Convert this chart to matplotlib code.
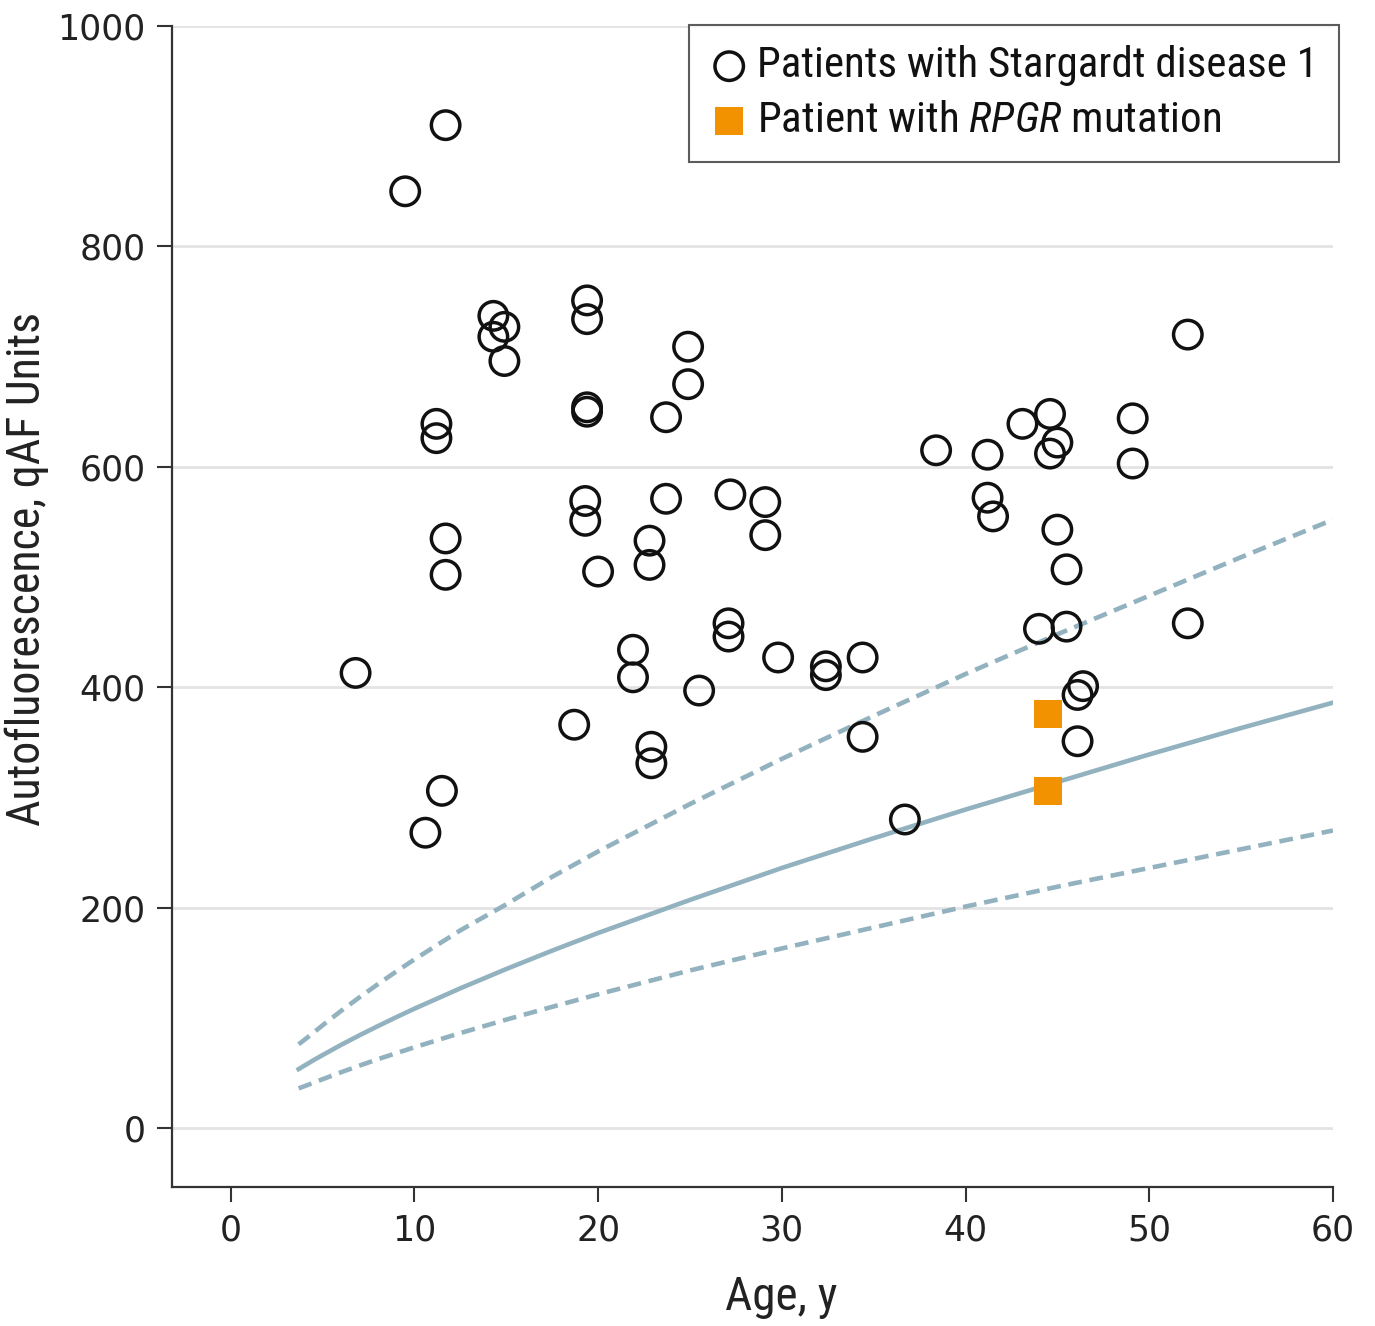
import matplotlib
matplotlib.use("Agg")
import matplotlib.pyplot as plt
from matplotlib import font_manager

# ---- data ----
stgd_age = [9.5, 11.7, 6.8, 11.2, 11.2, 11.7, 11.7, 11.5, 10.6, 14.3, 14.9, 14.3, 14.9,
            19.4, 19.4, 19.4, 19.4, 24.9, 24.9, 23.7, 19.3, 19.3, 23.7, 27.2, 29.1, 29.1,
            22.8, 22.8, 20.0, 27.1, 27.1, 21.9, 21.9, 25.5, 18.7, 22.9, 22.9, 29.8, 32.4,
            32.4, 34.4, 34.4, 36.7, 38.4, 41.2, 41.2, 41.5, 43.1, 44.6, 45.0, 44.6, 45.0,
            45.5, 44.0, 45.5, 46.4, 46.1, 46.1, 49.1, 49.1, 52.1, 52.1]
stgd_qaf = [850, 910, 413, 639, 626, 535, 502, 306, 268, 737, 727, 718, 696,
            751, 734, 654, 650, 709, 675, 645, 569, 551, 571, 575, 568, 538,
            533, 511, 505, 458, 446, 434, 409, 397, 366, 346, 331, 427, 419,
            411, 427, 355, 280, 615, 611, 572, 555, 639, 648, 622, 612, 543,
            507, 453, 455, 401, 393, 351, 644, 603, 720, 458]
rpgr_age = [44.5, 44.5]
rpgr_qaf = [376, 306]

curve_age = [3.7, 4.5, 5, 6, 7, 8, 9, 10, 12.5, 15, 17.5, 20, 25, 30, 35, 40, 45, 50, 55, 60]
curve_mean = [53.5, 61.5, 66.2, 75.4, 84.1, 92.4, 100.5, 108.3, 126.8, 144.3, 161, 177,
              207, 236, 263, 289, 314, 339, 363, 386]
curve_upper = [76, 86.4, 93.2, 106.2, 118.5, 130.4, 141.9, 153, 179.4, 203, 228, 251,
               294, 335, 374, 412, 448, 483, 518, 552]
curve_lower = [36, 41, 44.3, 50.6, 56.6, 62.4, 67.9, 73.3, 86.2, 98.4, 110, 121.4,
               143, 163, 182, 201, 219, 236, 253, 270]

xticks = [0, 10, 20, 30, 40, 50, 60]
yticks = [0, 200, 400, 600, 800, 1000]

# ---- fonts ----
avail = sorted({f.name for f in font_manager.fontManager.ttflist})
narrow = None
for cand in ['Liberation Sans Narrow', 'Roboto Condensed', 'Open Sans Condensed',
             'Noto Sans Condensed', 'DejaVu Sans Condensed']:
    if cand in avail:
        narrow = cand
        break
if narrow is None:
    for n in avail:
        if 'Condensed' in n or 'Narrow' in n:
            narrow = n
            break
if narrow is None:
    narrow = 'Liberation Sans' if 'Liberation Sans' in avail else 'DejaVu Sans'

plt.rcParams['mathtext.fontset'] = 'custom'
plt.rcParams['mathtext.it'] = narrow + ':italic'
plt.rcParams['mathtext.rm'] = narrow

fig = plt.figure(figsize=(13.75, 13.26), dpi=100)
ax = fig.add_axes([0.125, 0.1048, 0.8444, 0.8756])

curve_col = '#93b2bf'
ax.plot(curve_age, curve_upper, color=curve_col, lw=3.3, ls=(0, (3, 1.7)), zorder=2)
ax.plot(curve_age, curve_mean, color=curve_col, lw=3.3, zorder=2)
ax.plot(curve_age, curve_lower, color=curve_col, lw=3.3, ls=(0, (3, 1.7)), zorder=2)

ax.scatter(stgd_age, stgd_qaf, s=420, facecolors='none', edgecolors='#111111',
           linewidths=2.5, zorder=4, label='Patients with Stargardt disease 1')
ax.scatter(rpgr_age, rpgr_qaf, s=400, marker='s', color='#F39200', linewidths=0,
           zorder=3, label='Patient with $\\it{RPGR}$ mutation')

ax.set_xlim(-3.2, 60)
ax.set_ylim(-53.5, 1000)
ax.set_xticks(xticks)
ax.set_yticks(yticks)
ax.tick_params(axis='both', labelsize=25, length=11, width=1.5, color='#333333',
               labelcolor='#222222', pad=8)
ax.yaxis.grid(True, color='#e3e3e3', lw=2)
ax.set_axisbelow(True)
for s in ['top', 'right']:
    ax.spines[s].set_visible(False)
for s in ['left', 'bottom']:
    ax.spines[s].set_color('#333333')
    ax.spines[s].set_linewidth(1.6)

ax.set_xlabel('Age, y', family=narrow, fontsize=34, color='#222222')
ax.set_ylabel('Autofluorescence, qAF Units', family=narrow, fontsize=33,
              color='#222222')
ax.xaxis.set_label_coords(0.525, -0.076)
ax.yaxis.set_label_coords(-0.106, 0.532)

leg = ax.legend(loc='upper right', bbox_to_anchor=(1.005, 1.001), borderaxespad=0,
                prop={'family': narrow, 'size': 31}, frameon=True, fancybox=False,
                handletextpad=0.2, handlelength=0.9, labelspacing=0.32,
                borderpad=0.48, markerscale=1.0)
leg.get_frame().set_edgecolor('#333333')
leg.get_frame().set_linewidth(1.5)
for t in leg.get_texts():
    t.set_color('#111111')

fig.savefig('out.png', dpi=100)
